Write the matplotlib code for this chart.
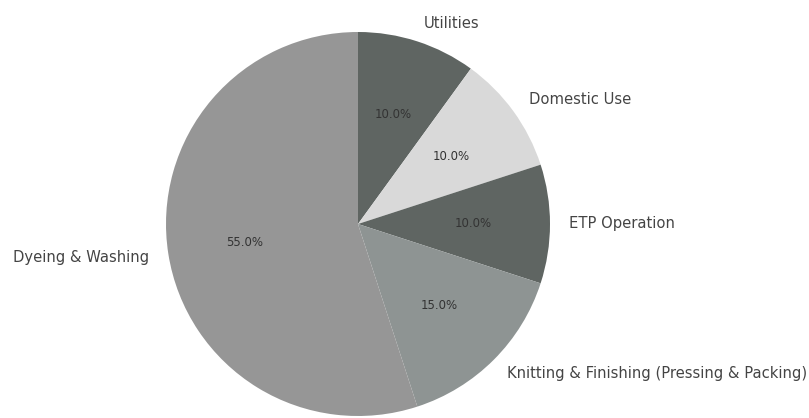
import matplotlib
matplotlib.use("Agg")
import matplotlib.pyplot as plt

# water use share by activity
labels = ["Utilities", "Domestic Use", "ETP Operation",
          "Knitting & Finishing (Pressing & Packing)", "Dyeing & Washing"]
shares = [10.0, 10.0, 10.0, 15.0, 55.0]
colors = ["#5f6562", "#d9d9d9", "#5f6562", "#8e9493", "#969696"]

fig = plt.figure(figsize=(8.09, 4.18), dpi=100)
# pie centre ~ (358, 224) px, radius ~192 px
r_px = 192
cx, cy = 358, 224
ax = fig.add_axes([(cx - r_px) / 809, (418 - cy - r_px) / 418,
                   2 * r_px / 809, 2 * r_px / 418])

wedges, texts, autotexts = ax.pie(
    shares, labels=labels, colors=colors, startangle=90, counterclock=False,
    autopct="%1.1f%%", pctdistance=0.6, labeldistance=1.1,
    textprops={"fontsize": 10.6, "color": "#444444"})
for t in autotexts:
    t.set_color("#333333")
    t.set_fontsize(8.5)

ax.set_xlim(-1, 1)
ax.set_ylim(-1, 1)
ax.set_aspect("equal")
ax.axis("off")

fig.savefig("out.png", dpi=100)
